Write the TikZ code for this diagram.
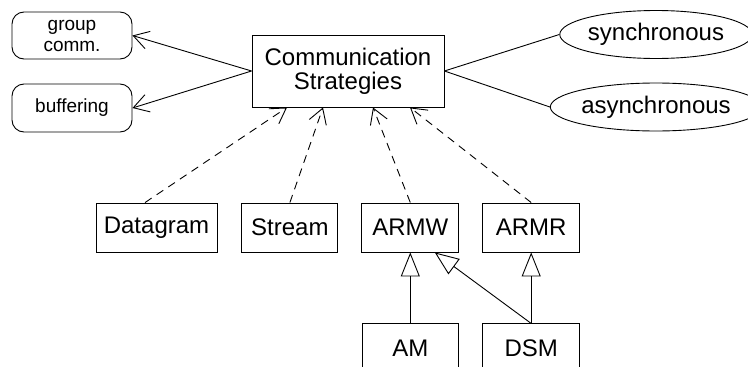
\documentclass[tikz,border=0pt]{standalone}
\usepackage{fontspec}
\setmainfont{Liberation Sans}
\usetikzlibrary{arrows.meta,shapes.geometric,positioning}

\begin{document}
\begin{tikzpicture}[x=1pt,y=-1pt,line width=0.9pt,
		every node/.style={font=\fontsize{24}{24}\selectfont,align=center,inner sep=0pt},
		class node/.style={draw,rectangle,minimum height=49pt},
		prop node/.style={draw,rounded corners=12pt,minimum width=120pt,minimum height=47pt,font=\fontsize{19}{21}\selectfont},
		mode node/.style={draw,ellipse,minimum width=186pt,minimum height=48pt},
		has/.style={-{Straight Barb[length=15pt,width=18pt,line width=0.9pt]}},
		uses/.style={dash pattern=on 8pt off 6pt,-{Straight Barb[length=15pt,width=18pt,line width=0.9pt]}},
		isa/.style={-{Triangle[open,length=24pt,width=19pt,line width=0.9pt]}}]
		% Rahmen
		\useasboundingbox (0,0) rectangle (748,367);
		
		\node[class node,minimum width=192pt,minimum height=72pt] (cs) at (348,71) {Communication\\Strategies};
		\node[prop node] (grp) at (72,35.5) {group\\comm.};
		\node[prop node,minimum height=48pt] (buf) at (72,108) {buffering};
		\node[mode node] (sync) at (656,34.5) {synchronous};
		\node[mode node] (async) at (656,107) {asynchronous};
		
		\node[class node,minimum width=121pt] (dg) at (156.5,227.5) {Datagram};
		\node[class node,minimum width=96pt] (stream) [right=24pt of dg] {Stream};
		\node[class node,minimum width=97pt] (armw) [right=23pt of stream] {ARMW};
		\node[class node,minimum width=97pt] (armr) [right=23pt of armw] {ARMR};
		\node[class node,minimum width=96pt] (am) [below=71pt of armw] {AM};
		\node[class node,minimum width=97pt] (dsm) [below=71pt of armr] {DSM};
		
		\path[has]
		(cs.west) edge (grp.east)
		(cs.west) edge (buf.east);
		\path
		(cs.east) edge (sync.west)
		(cs.east) edge (async.west);
		\path[uses]
		([xshift=-11.5pt]dg.north) edge ([xshift=-61pt]cs.south)
		(stream.north) edge ([xshift=-25pt]cs.south)
		(armw.north) edge ([xshift=25pt]cs.south)
		(armr.north) edge ([xshift=62pt]cs.south);
		\path[isa]
		(am.north) edge (armw.south)
		(dsm.north) edge (armr.south)
		(dsm.north) edge ([xshift=24.5pt]armw.south);
\end{tikzpicture}
\end{document}
